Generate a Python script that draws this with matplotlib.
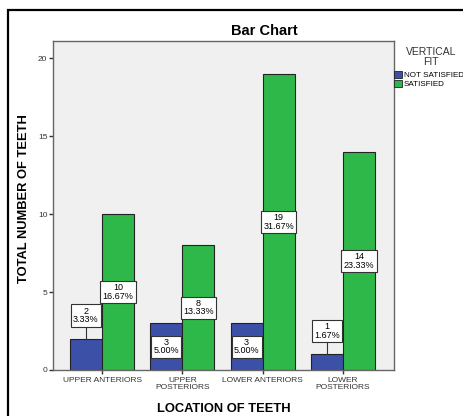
import numpy as np
import matplotlib
matplotlib.use("Agg")
import matplotlib.pyplot as plt
from matplotlib.patches import Rectangle, Patch

plt.rcParams['font.family'] = ['Liberation Sans', 'DejaVu Sans']

# data
locations = ["UPPER ANTERIORS", "UPPER\nPOSTERIORS", "LOWER ANTERIORS", "LOWER\nPOSTERIORS"]
not_satisfied = [2, 3, 3, 1]
satisfied = [10, 8, 19, 14]
not_satisfied_pct = ["3.33%", "5.00%", "5.00%", "1.67%"]
satisfied_pct = ["16.67%", "13.33%", "31.67%", "23.33%"]
series_names = ["NOT SATISFIED", "SATISFIED"]

blue = "#3c50a8"
green = "#2fb84a"

fig = plt.figure(figsize=(4.64, 4.16), dpi=100)
ax = fig.add_axes([53/464, 46/416, 341/464, 329/416])
ax.set_facecolor("#f0f0f0")

x = np.arange(len(locations))
w = 0.4
ax.bar(x - w/2, not_satisfied, w, color=blue, edgecolor="#222222", linewidth=0.8, zorder=2)
ax.bar(x + w/2, satisfied, w, color=green, edgecolor="#222222", linewidth=0.8, zorder=2)

box = dict(boxstyle="square,pad=0.25", fc="white", ec="#333333", lw=0.8)
half_box = 0.75  # approx half box height in data units

def put_label(xc, v, pct):
    txt = f"{v}\n{pct}"
    if v / 2 - half_box > 0.5:
        ax.text(xc, v / 2, txt, ha="center", va="center", fontsize=6.5,
                linespacing=0.95, bbox=box, zorder=4)
    else:
        yc = v + 1.5
        ax.plot([xc, xc], [v, yc - half_box], color="#333333", lw=0.8, zorder=3)
        ax.text(xc, yc, txt, ha="center", va="center", fontsize=6.5,
                linespacing=0.95, bbox=box, zorder=4)

for i in range(len(locations)):
    put_label(x[i] - w/2, not_satisfied[i], not_satisfied_pct[i])
    put_label(x[i] + w/2, satisfied[i], satisfied_pct[i])

ax.set_xlim(-0.61, 3.635)
ax.set_ylim(0, 21.1)
ax.set_yticks([0, 5, 10, 15, 20])
ax.set_xticks(x)
ax.set_xticklabels(locations, fontsize=6, linespacing=1.0)
ax.tick_params(axis="y", labelsize=6, length=3, width=1, colors="#333333", pad=1)
ax.tick_params(axis="x", length=3, width=1, colors="#333333", pad=2)
for s in ax.spines.values():
    s.set_color("#666666")
    s.set_linewidth(1.0)

ax.set_xlabel("LOCATION OF TEETH", fontsize=9.3, fontweight="bold")
ax.xaxis.set_label_coords(0.5, -0.1)
ax.set_ylabel("TOTAL NUMBER OF TEETH", fontsize=9.3, fontweight="bold")
ax.yaxis.set_label_coords(-0.068, 0.52)

fig.text(264/464, 1 - 31/416, "Bar Chart", ha="center", va="center",
         fontsize=10.5, fontweight="bold")

# legend title and entries
fig.text(431/464, 1 - 47/416, "VERTICAL\nFIT", ha="center", va="top",
         fontsize=7.5, color="#333333", linespacing=0.95)
handles = [Patch(facecolor=blue, edgecolor="#222222", lw=0.6),
           Patch(facecolor=green, edgecolor="#222222", lw=0.6)]
fig.legend(handles, series_names, loc="upper left",
           bbox_to_anchor=(394/464, 1 - 71/416), frameon=False,
           fontsize=5.8, handlelength=1.0, handleheight=0.9, handletextpad=0.2,
           labelspacing=0.15, borderpad=0, borderaxespad=0)

# outer frame
fig.add_artist(Rectangle((8/464, -0.1), 1.0, 1.1 - 9.5/416, transform=fig.transFigure,
                         fill=False, lw=1.6, ec="black"))

fig.savefig("out.png", dpi=100)
